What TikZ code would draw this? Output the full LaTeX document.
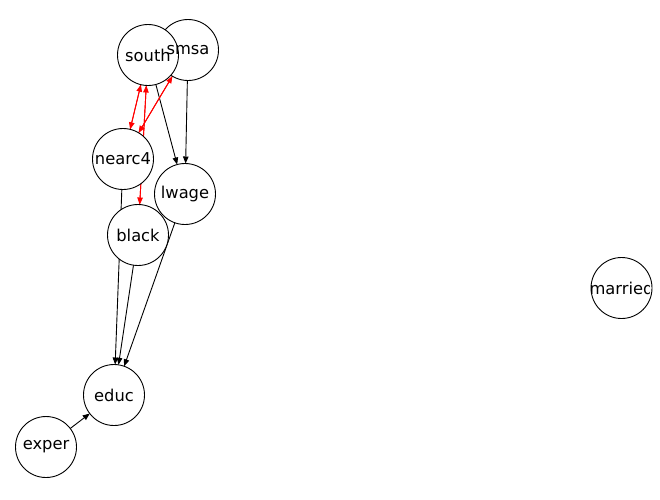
\documentclass[tikz,border=0pt]{standalone}
\usepackage{fontspec}
\setmainfont{DejaVu Sans}
\usetikzlibrary{arrows.meta}
\pgfdeclarelayer{background}
\pgfsetlayers{background,main}
\begin{document}
\begin{tikzpicture}[x=1pt,y=-1pt,
  vert/.style={circle,draw=black,fill=white,line width=0.9pt,minimum size=61pt,inner sep=0pt,outer sep=0pt},
  lbl/.style={inner sep=0pt,font=\fontsize{16.3}{19}\selectfont},
  edge/.style={draw=black,line width=0.9pt,-{Triangle[length=7pt,width=5.5pt]}},
  redge/.style={edge,draw=red,fill=red,-{Triangle[length=7pt,width=5.5pt,fill=red]}}]
\useasboundingbox (0,0) rectangle (660,499);
% circles (later ones on top)
\node[vert] (smsa) at (188,50) {};
\node[vert] (south) at (148,55) {};
\node[vert] (nearc4) at (123,159) {};
\node[vert] (lwage) at (185,194) {};
\node[vert] (black) at (138,235) {};
\node[vert] (educ) at (114,395) {};
\node[vert] (exper) at (46,447) {};
\begin{scope}
\clip (0,0) rectangle (652.6,499);
\node[vert] (married) at (621.5,288) {};
\end{scope}
\begin{scope}
\clip (0,0) rectangle (649.6,499);
\node[lbl] (marriedL) at (married) {married};
\end{scope}
% labels on top of all circles
\node[lbl] (smsaL) at (smsa) {smsa};
\node[lbl] (southL) at (south) {south};
\node[lbl] (nearc4L) at (nearc4) {nearc4};
\node[lbl] (lwageL) at (lwage) {lwage};
\node[lbl] (blackL) at (black) {black};
\node[lbl] (educL) at (educ) {educ};
\node[lbl] (experL) at (exper) {exper};
% edges behind nodes
\begin{pgfonlayer}{background}
\draw[edge] (south) -- (lwage);
\draw[edge] (smsa) -- (lwage);
\draw[edge] (nearc4) -- (educ);
\draw[edge] (black) -- (educ);
\draw[edge] (lwage) -- (educ);
\draw[edge] (exper) -- (educ);
\draw[redge] (south) -- (nearc4);
\draw[redge] (nearc4) -- (south);
\draw[redge] (smsa) -- (nearc4);
\draw[redge] (nearc4) -- (smsa);
\draw[redge] (south) -- (black);
\draw[redge] (black) -- (south);
\end{pgfonlayer}
\end{tikzpicture}
\end{document}
